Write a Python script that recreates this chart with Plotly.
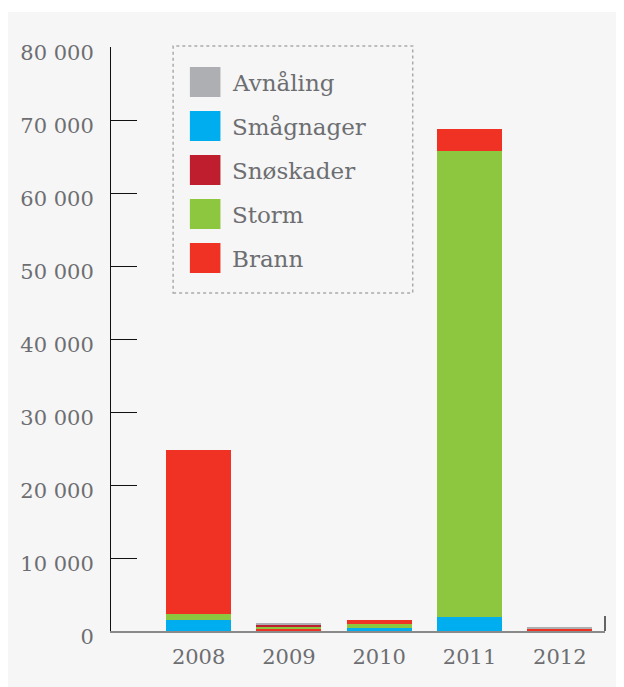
import plotly.graph_objects as go

years = ["2008", "2009", "2010", "2011", "2012"]
series_names = ["Avnåling", "Smågnager", "Snøskader", "Storm", "Brann"]
series_colors = ["#adafb2", "#00aeef", "#be1e2d", "#8dc63f", "#ef3224"]

avnaling = [0, 130, 0, 0, 200]
smagnager = [1550, 0, 350, 1900, 0]
snoskader = [0, 270, 0, 0, 0]
storm = [760, 400, 550, 63800, 0]
brann = [22500, 230, 650, 3100, 300]
brann_base_years = ["2009", "2012"]  # years where Brann sits at the bottom of the stack

y_tickvals = [0, 10000, 20000, 30000, 40000, 50000, 60000, 70000, 80000]
y_ticktext = ["0", "10 000", "20 000", "30 000", "40 000", "50 000", "60 000", "70 000", "80 000"]

TEXT = "#6d6e71"
FONT = "DejaVu Serif"

OFFX, OFFY = 11, 8  # empirical page offset
W, H = 616, 679
# plot area in screen pixels
SX0, SX1, SY0, SY1 = 107, 608, 47, 631
L = SX0 - OFFX
T = SY0 - OFFY
R = W - (SX1 - OFFX)
B = H - (SY1 - OFFY)
PW, PH = SX1 - SX0, SY1 - SY0


def px(x):
    return (x - SX0) / PW


def py(y):
    return (SY1 - y) / PH


values = dict(zip(series_names, [avnaling, smagnager, snoskader, storm, brann]))
colors = dict(zip(series_names, series_colors))

fig = go.Figure()

brann_low = [v if yr in brann_base_years else 0 for yr, v in zip(years, brann)]
brann_high = [0 if yr in brann_base_years else v for yr, v in zip(years, brann)]

fig.add_trace(go.Bar(x=years, y=brann_low, name="Brann", marker_color=colors["Brann"],
                     marker_line_width=0, showlegend=False, legendgroup="Brann"))
for nm in ["Smågnager", "Storm", "Snøskader", "Avnåling"]:
    fig.add_trace(go.Bar(x=years, y=values[nm], name=nm, marker_color=colors[nm],
                         marker_line_width=0, showlegend=False, legendgroup=nm))
fig.add_trace(go.Bar(x=years, y=brann_high, name="Brann", marker_color=colors["Brann"],
                     marker_line_width=0, showlegend=False, legendgroup="Brann"))

shapes = []
# light panel background
shapes.append(dict(type="rect", xref="paper", yref="paper", layer="below",
                   x0=px(0), x1=px(620), y0=py(700), y1=py(12),
                   fillcolor="#f6f6f6", line_width=0))
# right end tick on the x axis
shapes.append(dict(type="line", xref="paper", yref="paper",
                   x0=1, x1=1, y0=0, y1=py(616), line=dict(color="#333333", width=1.5)))
# legend box
shapes.append(dict(type="rect", xref="paper", yref="paper",
                   x0=px(170), x1=px(413), y0=py(293), y1=py(46),
                   line=dict(color="#aaaaaa", width=1.5, dash="dot"), fillcolor="rgba(0,0,0,0)"))

annotations = []
for i, nm in enumerate(series_names):
    top = 67 + 44 * i
    shapes.append(dict(type="rect", xref="paper", yref="paper",
                       x0=px(187), x1=px(218), y0=py(top + 30), y1=py(top),
                       fillcolor=colors[nm], line_width=0))
    annotations.append(dict(xref="paper", yref="paper", x=px(228), y=py(top + 16),
                            xanchor="left", yanchor="middle", text=nm, showarrow=False,
                            font=dict(family=FONT, size=23, color=TEXT)))

fig.update_layout(
    width=W, height=H,
    margin=dict(l=L, r=R, t=T, b=B),
    barmode="stack",
    bargap=0.28,
    paper_bgcolor="white",
    plot_bgcolor="rgba(0,0,0,0)",
    showlegend=False,
    shapes=shapes,
    annotations=annotations,
    font=dict(family=FONT, color=TEXT, size=21),
    xaxis=dict(
        type="category",
        range=[-0.97, 4.5],
        showline=True, linecolor="#8a8a8a", linewidth=2,
        showgrid=False, zeroline=False,
        ticks="", ticklabelstandoff=6,
        tickfont=dict(family=FONT, size=21, color=TEXT),
    ),
    yaxis=dict(
        range=[0, 80000],
        tickvals=y_tickvals, ticktext=y_ticktext,
        showline=True, linecolor="#111111", linewidth=1,
        ticks="inside", ticklen=26, tickcolor="#111111", tickwidth=1,
        showgrid=False, zeroline=False,
        ticklabelstandoff=12, ticklabelshift=6,
        tickfont=dict(family=FONT, size=21, color=TEXT),
    ),
)

fig.write_html("out.html")
